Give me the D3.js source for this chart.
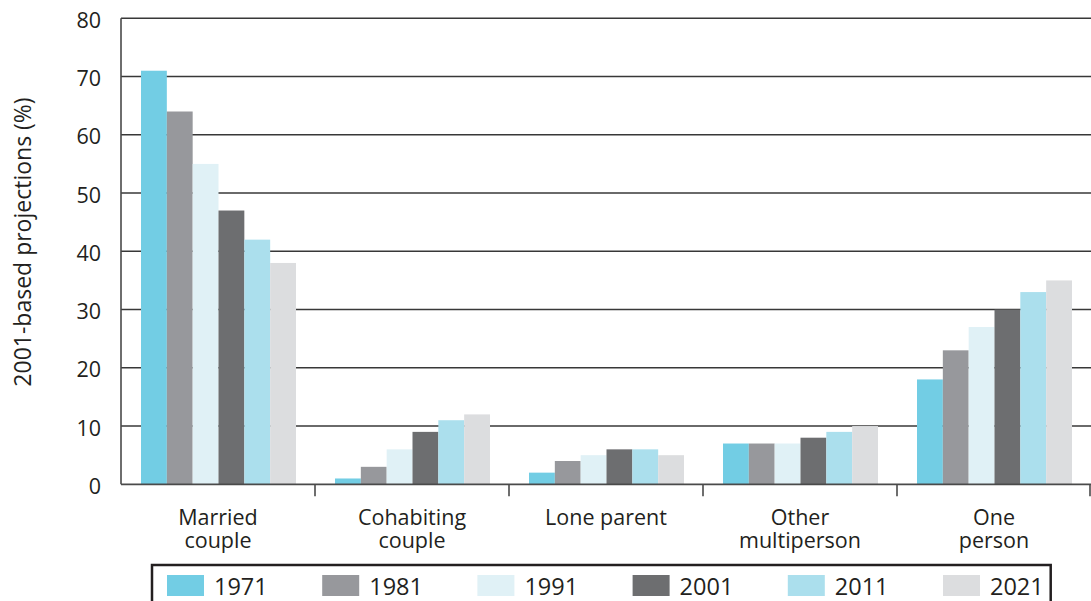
<!DOCTYPE html>
<html>
<head>
<meta charset="utf-8">
<script src="https://cdn.jsdelivr.net/npm/d3@7"></script>
<style>
  html, body { margin: 0; padding: 0; background: #fff; }
  svg { display: block; font-family: "Open Sans", "Noto Sans", sans-serif; }
</style>
</head>
<body>
<svg id="chart" width="1091" height="601"></svg>
<script>
// Household types and projection years
const categories = [["Married", "couple"], ["Cohabiting", "couple"], ["Lone parent"], ["Other", "multiperson"], ["One", "person"]];
const years = ["1971", "1981", "1991", "2001", "2011", "2021"];
const colors = ["#72cde4", "#97989c", "#e0f1f6", "#6d6e70", "#abdfed", "#dcdddf"];

// Share of households (%) per year, one array per household type
const married     = [71, 64, 55, 47, 42, 38];
const cohabiting  = [1, 3, 6, 9, 11, 12];
const loneParent  = [2, 4, 5, 6, 6, 5];
const otherMulti  = [7, 7, 7, 8, 9, 10];
const onePerson   = [18, 23, 27, 30, 33, 35];
const seriesByCategory = [married, cohabiting, loneParent, otherMulti, onePerson];

const yTicks = [0, 10, 20, 30, 40, 50, 60, 70, 80];
const yTitle = "2001-based projections (%)";

const svg = d3.select("#chart");
const ink = "#231f20";

const plotLeft = 121, plotRight = 1091, plotTop = 18.3, plotBottom = 484.3;

const catKeys = categories.map(c => c.join(" "));
const x0 = d3.scaleBand().domain(catKeys).range([plotLeft, plotRight]).padding(0);
const x1 = d3.scaleBand().domain(years).range([20, x0.bandwidth() - 19]).padding(0);
const y = d3.scaleLinear().domain([0, 80]).range([plotBottom, plotTop]);

// Horizontal gridlines
svg.append("g")
  .selectAll("line")
  .data(yTicks.filter(t => t > 0))
  .join("line")
  .attr("x1", plotLeft).attr("x2", plotRight)
  .attr("y1", d => y(d)).attr("y2", d => y(d))
  .attr("stroke", "#383838").attr("stroke-width", 1.6);

// Bars
const groups = svg.append("g")
  .selectAll("g")
  .data(seriesByCategory.map((vals, i) => ({ key: catKeys[i], vals })))
  .join("g")
  .attr("transform", d => `translate(${x0(d.key)},0)`);

groups.selectAll("rect")
  .data(d => d.vals.map((v, j) => ({ year: years[j], v, c: colors[j] })))
  .join("rect")
  .attr("x", d => x1(d.year))
  .attr("width", x1.bandwidth())
  .attr("y", d => y(d.v))
  .attr("height", d => y(0) - y(d.v))
  .attr("fill", d => d.c);

// Y axis line and tick labels
svg.append("line")
  .attr("x1", plotLeft).attr("x2", plotLeft)
  .attr("y1", plotTop).attr("y2", plotBottom)
  .attr("stroke", "#4a4a4a").attr("stroke-width", 1.6);

svg.append("g")
  .selectAll("text")
  .data(yTicks)
  .join("text")
  .attr("x", 101)
  .attr("y", d => y(d) + 2)
  .attr("dy", "0.35em")
  .attr("text-anchor", "end")
  .attr("font-size", 21.5)
  .attr("fill", ink)
  .text(d => d);

// X axis baseline with category dividers
svg.append("line")
  .attr("x1", plotLeft).attr("x2", plotRight)
  .attr("y1", plotBottom).attr("y2", plotBottom)
  .attr("stroke", "#4a4a4a").attr("stroke-width", 1.8);

svg.append("g")
  .selectAll("line")
  .data(catKeys.map(k => x0(k) + x0.bandwidth()))
  .join("line")
  .attr("x1", d => Math.min(d, plotRight - 1)).attr("x2", d => Math.min(d, plotRight - 1))
  .attr("y1", plotBottom).attr("y2", plotBottom + 12)
  .attr("stroke", "#4a4a4a").attr("stroke-width", 1.6);

// Category labels, one text per line
const catLines = [];
categories.forEach((lines, i) => {
  lines.forEach((l, j) => catLines.push({ l, j, key: catKeys[i] }));
});
svg.append("g")
  .selectAll("text")
  .data(catLines)
  .join("text")
  .attr("x", d => x0(d.key) + x0.bandwidth() / 2)
  .attr("y", d => 525 + d.j * 23)
  .attr("text-anchor", "middle")
  .attr("font-size", 21.5)
  .attr("fill", ink)
  .text(d => d.l);

// Y axis title
svg.append("text")
  .attr("transform", `translate(31,242) rotate(-90)`)
  .attr("text-anchor", "middle")
  .attr("font-size", 23)
  .attr("fill", ink)
  .text(yTitle);

// Legend
const legendX = d3.scaleBand().domain(years).range([167, 167 + 6 * 155.2]);
svg.append("rect")
  .attr("x", 152).attr("y", 565)
  .attr("width", 898.7).attr("height", 60)
  .attr("fill", "none")
  .attr("stroke", ink).attr("stroke-width", 2.5);

const items = svg.append("g")
  .selectAll("g")
  .data(years.map((yr, i) => ({ yr, c: colors[i] })))
  .join("g")
  .attr("transform", d => `translate(${legendX(d.yr)},0)`);

items.append("rect")
  .attr("x", 0).attr("y", 575)
  .attr("width", 37).attr("height", 21)
  .attr("fill", d => d.c);

items.append("text")
  .attr("x", 47).attr("y", 595)
  .attr("font-size", 23.5)
  .attr("fill", ink)
  .text(d => d.yr);
</script>
</body>
</html>
